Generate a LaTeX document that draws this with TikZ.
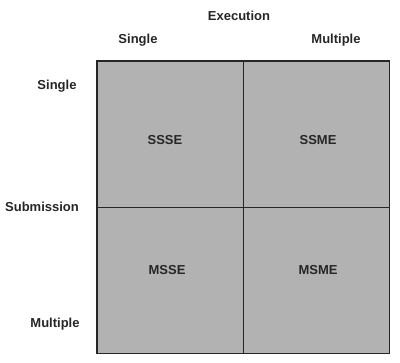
\documentclass[tikz,border=0pt]{standalone}
\usepackage{fontspec}
\setmainfont{Liberation Sans}
\usetikzlibrary{positioning}

\begin{document}
\begin{tikzpicture}[x=1pt, y=-1pt,
    cell/.style={draw=black!85, fill=black!30, line width=0.8pt, minimum width=146pt, minimum height=146pt, inner sep=0pt},
    lbl/.style={font=\fontsize{13}{15}\selectfont\bfseries, text=black!85, inner sep=0pt}
]
    \useasboundingbox (0,0) rectangle (400,363);
    % quadrants
    \node[cell] (ss) at (170,134) {};
    \node[cell] (sm) at (316,134) {};
    \node[cell] (ms) at (170,280) {};
    \node[cell] (mm) at (316,280) {};
    \draw[black!85, line width=1.2pt] (ss.north west) rectangle (mm.south east);

    % quadrant names
    \node[lbl] (ssse) at (165,140) {SSSE};
    \node[lbl] (ssme) at (318,140) {SSME};
    \node[lbl] (msse) at (167,270) {MSSE};
    \node[lbl] (msme) at (318,270) {MSME};

    % axis titles
    \node[lbl] (exec) at (239,16) {Execution};
    \node[lbl] (execS) at (138,40) {Single};
    \node[lbl] (execM) at (336,40) {Multiple};
    \node[lbl] (subm) at (42,207) {Submission};
    \node[lbl] (submS) at (57,86) {Single};
    \node[lbl] (submM) at (55,324) {Multiple};
\end{tikzpicture}
\end{document}
